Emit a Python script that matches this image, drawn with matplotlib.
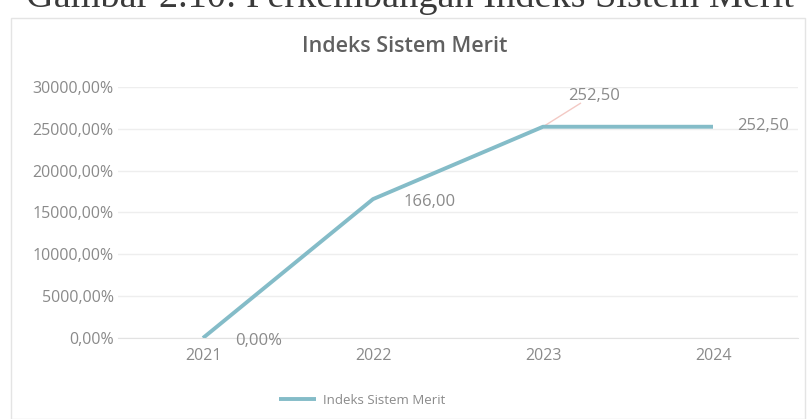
import matplotlib.pyplot as plt
from matplotlib.patches import Rectangle
from matplotlib.ticker import FuncFormatter

years = ["2021", "2022", "2023", "2024"]
indeks = [0.0, 166.0, 252.5, 252.5]
label_fmt = ["pct", "num", "num", "num"]
y_ticks = [0, 50, 100, 150, 200, 250, 300]

line_col = "#84bcc8"
text_col = "#8a8a8a"
plt.rcParams['font.family'] = ['Open Sans', 'DejaVu Sans']

fig = plt.figure(figsize=(8.11, 4.19), dpi=100)
fig.patch.set_facecolor("white")

# figure caption, cut off at the top edge
fig.text(26 / 811, 1 - 7 / 419, "Gambar 2.10: Perkembangan Indeks Sistem Merit",
         ha="left", va="baseline", fontsize=27.5, color="#3a3a3a",
         family="Liberation Serif")

# chart frame
fig.patches.append(Rectangle((11 / 811, 0.0), 794 / 811, 1 - 18 / 419,
                             transform=fig.transFigure, fill=False,
                             edgecolor="#e4e4e4", lw=1.0))

ax = fig.add_axes([118 / 811, 1 - 338 / 419, 680 / 811, 251 / 419])
x = list(range(len(years)))
ax.plot(x, indeks, color=line_col, lw=2.8, solid_capstyle="butt",
        label="Indeks Sistem Merit", zorder=3)

ax.set_xlim(-0.5, len(years) - 0.5)
ax.set_ylim(0, 300)
ax.set_yticks(y_ticks)
ax.yaxis.set_major_formatter(FuncFormatter(
    lambda v, p: f"{v * 100:.2f}%".replace(".", ",")))
ax.set_xticks(x)
ax.set_xticklabels(years)
ax.grid(axis="y", color="#eeeeee", lw=1)
ax.set_axisbelow(True)
for s in ax.spines.values():
    s.set_visible(False)
ax.spines["bottom"].set_visible(True)
ax.spines["bottom"].set_color("#e2e2e2")
ax.tick_params(length=0, colors=text_col, labelsize=11.5)
ax.tick_params(axis="x", pad=7)
ax.tick_params(axis="y", pad=3)

# data labels
def fmt(v, kind):
    if kind == "pct":
        return f"{v * 100:.2f}%".replace(".", ",")
    return f"{v:.2f}".replace(".", ",")

label_pos = [(0.19, -3), (0.18, -4), (0.15, 37), (0.14, 1)]
for i, (v, k) in enumerate(zip(indeks, label_fmt)):
    dx, dy = label_pos[i]
    ax.text(i + dx, v + dy, fmt(v, k), color=text_col, fontsize=12,
            va="center", ha="left", clip_on=False)
# leader line for the 2023 label
ax.plot([2, 2.22], [indeks[2], indeks[2] + 28], color="#f3c9c4", lw=1,
        zorder=2)

fig.text(405 / 811, 1 - 46 / 419, "Indeks Sistem Merit", ha="center",
         va="center", fontsize=15.5, color="#606060", fontweight="semibold")

leg = fig.legend(loc="center", bbox_to_anchor=(362 / 811, 1 - 400 / 419),
                 frameon=False, fontsize=9.5, labelcolor=text_col,
                 handlelength=2.8, handletextpad=0.5)

fig.savefig("out.png", dpi=100, facecolor="white")
